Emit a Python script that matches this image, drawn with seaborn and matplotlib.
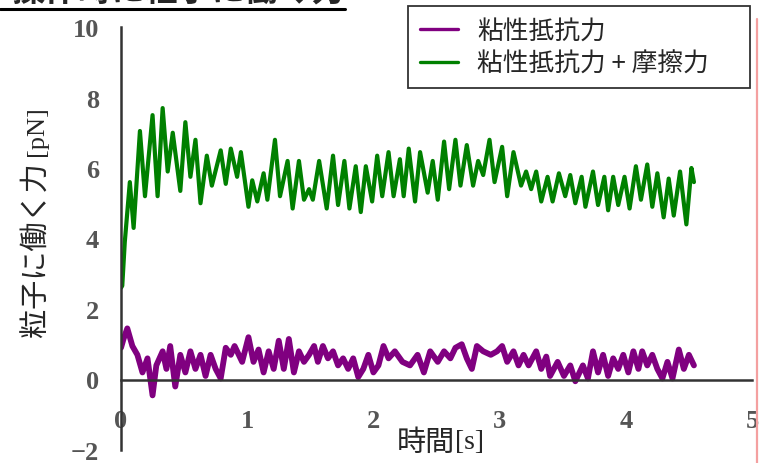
import numpy as np
import pandas as pd
import seaborn as sns
import matplotlib.pyplot as plt
from matplotlib.lines import Line2D

# time [s] / force [pN] (peaks and troughs)
green_t = [0.00, 0.01, 0.03, 0.07, 0.10, 0.15, 0.19, 0.25, 0.29, 0.33, 0.37, 0.41, 0.47, 0.51, 0.55,
           0.59, 0.63, 0.68, 0.72, 0.79, 0.83, 0.87, 0.92, 0.95, 1.01, 1.04, 1.08, 1.13, 1.16, 1.22,
           1.26, 1.32, 1.36, 1.41, 1.45, 1.49, 1.52, 1.57, 1.63, 1.68, 1.72, 1.77, 1.81, 1.86, 1.90,
           1.94, 1.99, 2.03, 2.07, 2.12, 2.16, 2.21, 2.24, 2.28, 2.33, 2.37, 2.43, 2.47, 2.51, 2.56,
           2.60, 2.65, 2.69, 2.74, 2.79, 2.83, 2.87, 2.92, 2.96, 3.02, 3.06, 3.11, 3.17, 3.21, 3.25,
           3.29, 3.33, 3.38, 3.42, 3.47, 3.52, 3.56, 3.60, 3.65, 3.68, 3.74, 3.78, 3.83, 3.86, 3.90,
           3.94, 3.99, 4.03, 4.08, 4.12, 4.17, 4.21, 4.25, 4.30, 4.34, 4.38, 4.43, 4.48, 4.52, 4.54]
green_v = [2.6, 2.66, 3.9, 5.6, 4.3, 7.05, 5.2, 7.5, 5.2, 7.7, 5.9, 7.0, 5.35, 7.3, 5.75,
           6.8, 5.0, 6.35, 5.5, 6.5, 5.55, 6.55, 5.75, 6.45, 4.9, 5.65, 5.05, 5.85, 5.1, 6.8,
           5.2, 6.2, 4.85, 6.2, 5.1, 5.4, 5.1, 6.2, 4.85, 6.35, 4.95, 6.2, 4.85, 6.05, 4.75,
           6.05, 5.05, 6.35, 5.2, 6.45, 5.2, 6.25, 5.2, 6.55, 5.05, 6.45, 5.3, 6.2, 5.1, 6.75,
           5.4, 6.8, 5.5, 6.65, 5.5, 6.2, 5.8, 6.8, 5.6, 6.6, 5.2, 6.45, 5.5, 5.9, 5.4,
           5.9, 5.05, 5.75, 5.05, 5.85, 5.2, 5.8, 5.0, 5.75, 4.9, 5.9, 4.95, 5.75, 4.8, 5.75,
           4.95, 5.75, 4.85, 6.05, 5.1, 6.1, 4.9, 5.85, 4.6, 5.7, 4.65, 5.9, 4.4, 6.0, 5.6]

purple_t = [0.00, 0.02, 0.05, 0.09, 0.13, 0.17, 0.21, 0.25, 0.28, 0.33, 0.36, 0.39, 0.43, 0.47, 0.51,
            0.55, 0.59, 0.63, 0.67, 0.71, 0.75, 0.79, 0.83, 0.87, 0.90, 0.96, 1.01, 1.05, 1.09, 1.13,
            1.17, 1.21, 1.25, 1.29, 1.33, 1.37, 1.41, 1.45, 1.49, 1.53, 1.56, 1.60, 1.64, 1.68, 1.72,
            1.76, 1.80, 1.84, 1.88, 1.92, 1.96, 2.00, 2.04, 2.08, 2.12, 2.17, 2.23, 2.29, 2.35, 2.40,
            2.45, 2.51, 2.56, 2.61, 2.65, 2.70, 2.74, 2.78, 2.82, 2.87, 2.93, 2.98, 3.02, 3.06, 3.11,
            3.15, 3.19, 3.23, 3.29, 3.33, 3.37, 3.40, 3.46, 3.51, 3.56, 3.60, 3.66, 3.70, 3.74, 3.78,
            3.82, 3.86, 3.90, 3.94, 3.98, 4.02, 4.06, 4.10, 4.13, 4.17, 4.21, 4.25, 4.29, 4.33, 4.37,
            4.42, 4.46, 4.50, 4.54]
purple_v = [0.9, 1.15, 1.45, 0.95, 0.7, 0.2, 0.6, -0.45, 0.4, 0.8, 0.3, 0.95, -0.2, 0.7, 0.2,
            0.8, 0.3, 0.7, 0.1, 0.7, 0.3, 0.03, 0.9, 0.7, 0.95, 0.5, 1.2, 0.5, 0.85, 0.2,
            0.8, 0.3, 1.1, 0.3, 1.15, 0.2, 0.8, 0.5, 0.7, 0.95, 0.5, 0.95, 0.6, 0.8, 0.4,
            0.6, 0.3, 0.6, 0.07, 0.3, 0.7, 0.2, 0.4, 0.95, 0.6, 0.8, 0.5, 0.4, 0.7, 0.2,
            0.8, 0.5, 0.8, 0.6, 0.9, 1.0, 0.6, 0.3, 0.95, 0.8, 0.7, 0.8, 0.95, 0.5, 0.8,
            0.4, 0.7, 0.4, 0.8, 0.3, 0.65, 0.1, 0.5, 0.1, 0.4, -0.05, 0.4, 0.03, 0.8, 0.2,
            0.7, 0.1, 0.6, 0.3, 0.7, 0.2, 0.8, 0.3, 0.8, 0.4, 0.7, 0.3, 0.03, 0.5, 0.03,
            0.85, 0.3, 0.7, 0.4]

series_labels = ['粘性抵抗力', '粘性抵抗力 + 摩擦力']
series_colors = ['#800080', '#008000']
x_ticks = [0, 1, 2, 3, 4, 5]
y_ticks = [-2, 0, 2, 4, 6, 8, 10]
title_text = '操作時に粒子に働く力'

sns.set_style('white')
plt.rcParams['font.family'] = ['Noto Sans CJK JP', 'DejaVu Sans']

W, H = 774, 464
fig = plt.figure(figsize=(W / 100, H / 100), dpi=100)
ax = fig.add_axes([121 / W, (H - 451) / H, (752 - 121) / W, (451 - 28) / H])

df_p = pd.DataFrame({'t': purple_t, 'f': purple_v})
df_g = pd.DataFrame({'t': green_t, 'f': green_v})
sns.lineplot(data=df_p, x='t', y='f', estimator=None, sort=False, color=series_colors[0], lw=4.2, ax=ax)
sns.lineplot(data=df_g, x='t', y='f', estimator=None, sort=False, color=series_colors[1], lw=3.0, ax=ax)

ax.set_xlim(0, 5)
ax.set_ylim(-2, 10)
ax.set_xlabel('')
ax.set_ylabel('')

for s in ['top', 'right']:
    ax.spines[s].set_visible(False)
ax.spines['bottom'].set_position(('data', 0))
for s in ['left', 'bottom']:
    ax.spines[s].set_color('#333333')
    ax.spines[s].set_linewidth(1.8)

ax.set_xticks(x_ticks)
ax.set_yticks(y_ticks)
ax.tick_params(axis='y', direction='in', length=6, width=1.8, color='#333333', pad=16)
ax.tick_params(axis='x', direction='inout', length=11, width=1.8, color='#333333', pad=16)
ax.set_yticklabels(['\u22122' if v == -2 else str(v) for v in y_ticks])
for lab in ax.get_xticklabels() + ax.get_yticklabels():
    lab.set_fontfamily('Liberation Serif')
    lab.set_fontsize(19)
    lab.set_fontweight('bold')
    lab.set_color('#555555')

# axis titles: CJK part in sans, unit in serif
fig.text(37 / W, 1 - 250 / H, '粒子に働く力', rotation=90, ha='center', va='center', fontsize=21)
fig.text(37 / W, 1 - 131 / H, '[pN]', rotation=90, ha='center', va='center', fontsize=19,
         family='Liberation Serif')
fig.text(455 / W, 1 - 443 / H, '時間', ha='right', va='center', fontsize=21)
fig.text(455 / W, 1 - 443 / H, '[s]', ha='left', va='center', fontsize=20, family='Liberation Serif')

# clipped, underlined heading from the source page
fig.text(345 / W, 1 - 8 / H, title_text, ha='right', va='bottom', fontsize=24, fontweight='bold')
fig.add_artist(Line2D([0, 345 / W], [1 - 10 / H, 1 - 10 / H], color='black', lw=2.2))

# page edge marker
fig.add_artist(Line2D([757 / W, 757 / W], [0, 1 - 20 / H], color='#f4a0a0', lw=1.6))

handles = [Line2D([], [], color=c, lw=2.4) for c in series_colors]
leg = ax.legend(handles, series_labels, loc='upper left',
                bbox_to_anchor=(408 / W, 1 - 88 / H, 342 / W, 81 / H), mode='expand',
                bbox_transform=fig.transFigure, fontsize=18.5, frameon=True, fancybox=False,
                handlelength=1.5, handletextpad=0.75, borderpad=0.45, labelspacing=0.28,
                borderaxespad=0)
leg.get_frame().set_edgecolor('black')
leg.get_frame().set_linewidth(1.3)

fig.savefig('out.png', dpi=100)
